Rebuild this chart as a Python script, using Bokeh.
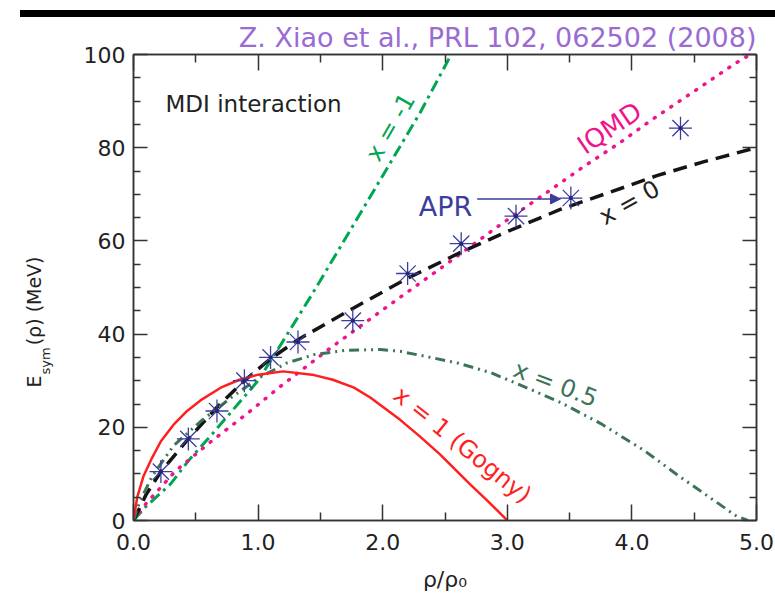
import math
from bokeh.plotting import figure
from bokeh.layouts import column
from bokeh.models import (Range1d, LinearAxis, FixedTicker, NumeralTickFormatter,
                          Label, Arrow, NormalHead, Title, Spacer)
from bokeh.embed import file_html
from bokeh.resources import INLINE

FONT = "DejaVu Sans"

# ---------------- data ----------------
gogny_u = [0, 0.03, 0.08, 0.15, 0.22, 0.32, 0.43, 0.55, 0.7, 0.85, 1.0, 1.2, 1.45,
           1.6, 1.77, 1.9, 2.0, 2.14, 2.3, 2.46, 2.7, 2.85, 3.0]
gogny_e = [0, 5, 9.5, 13.5, 17, 20.5, 23.5, 26, 28.5, 30.2, 31.3, 32, 31.2,
           30.2, 28.5, 26.4, 24.4, 21.6, 18, 14.2, 7.8, 4, 0]

half_u = [0, 0.05, 0.15, 0.32, 0.54, 0.78, 1.0, 1.23, 1.45, 1.7, 1.98, 2.14, 2.33,
          2.6, 2.87, 3.19, 3.43, 3.75, 4.1, 4.39, 4.66, 4.83, 4.93]
half_e = [0, 4, 9.5, 16, 21.3, 26.3, 30.5, 33.8, 35.6, 36.5, 36.7, 36.3, 35.3,
          33.8, 31.7, 28.1, 25.3, 20.8, 15, 9.3, 4.3, 1.1, 0]

zero_u = [0, 0.1, 0.22, 0.44, 0.67, 0.89, 1.1, 1.32, 1.76, 2.2, 2.63, 3.0, 3.43,
          3.83, 4.2, 4.58, 5.0]
zero_e = [0, 5.5, 10.5, 17.5, 24.3, 30, 34.7, 38.8, 45.5, 52, 57.6, 62, 66.8,
          70.5, 74, 77, 80]

minus_u = [0, 0.1, 0.3, 0.44, 0.62, 0.8, 1.0, 1.2, 1.43, 1.7, 2.0, 2.3, 2.55]
minus_e = [0, 3, 7.9, 12.8, 18.2, 23.8, 30, 38.5, 48.4, 60.5, 74, 87.5, 100]

iqmd_u = [0, 0.1, 0.34, 0.62, 0.91, 1.18, 1.58, 2.01, 2.5, 2.94, 3.35, 3.61, 3.9,
          4.16, 4.56, 4.83, 4.95]
iqmd_e = [0, 3.6, 10.7, 16.9, 22.9, 28.8, 37, 45.4, 54.8, 63.4, 71, 75.9, 81,
          86, 93.2, 98.1, 100]

apr_u = [0.22, 0.44, 0.67, 0.89, 1.1, 1.32, 1.76, 2.2, 2.63, 3.07, 3.51, 4.39]
apr_e = [10.5, 17.5, 23.5, 30, 35, 38.3, 42.9, 53, 59.4, 65.3, 69.2, 84.2]

x_ticks = [0, 1, 2, 3, 4, 5]
x_minor = [0.5, 1.5, 2.5, 3.5, 4.5]
y_ticks = [0, 20, 40, 60, 80, 100]
y_minor = [5, 10, 15, 25, 30, 35, 45, 50, 55, 65, 70, 75, 85, 90, 95]

# ---------------- figure ----------------
p = figure(width=775, height=592, output_backend="svg", toolbar_location=None,
           x_range=Range1d(0, 5), y_range=Range1d(0, 100),
           min_border_left=133, min_border_right=19, min_border_top=35,
           min_border_bottom=89)
p.background_fill_color = "white"
p.border_fill_color = "white"
p.xgrid.visible = False
p.ygrid.visible = False
p.outline_line_color = "#333333"
p.outline_line_width = 1.5

p.title.text = "Z. Xiao et al., PRL 102, 062502 (2008)"
p.title.align = "right"
p.title.text_font = FONT
p.title.text_font_size = "27px"
p.title.text_font_style = "normal"
p.title.text_color = "#9b6bd3"
p.title.standoff = 4


def style_axis(ax, ticks, minor, major_len, minor_len, show_labels):
    ax.ticker = FixedTicker(ticks=ticks, minor_ticks=minor)
    ax.major_tick_in = major_len
    ax.major_tick_out = 0
    ax.minor_tick_in = minor_len
    ax.minor_tick_out = 0
    ax.major_tick_line_color = "#333333"
    ax.minor_tick_line_color = "#333333"
    ax.major_tick_line_width = 1.5
    ax.minor_tick_line_width = 1.5
    ax.axis_line_color = "#333333"
    ax.axis_line_width = 1.5
    if show_labels:
        ax.major_label_text_font = FONT
        ax.major_label_text_font_size = "22px"
        ax.major_label_text_color = "#222222"
    else:
        ax.major_label_text_font_size = "0px"
        ax.major_label_text_color = None
        ax.major_label_standoff = 0


xa = p.xaxis[0]
style_axis(xa, x_ticks, x_minor, 16, 8, True)
xa.formatter = NumeralTickFormatter(format="0.0")
xa.major_label_standoff = 13
xa.axis_label = "\u03c1/\u03c1\u2080"
xa.axis_label_text_font = FONT
xa.axis_label_text_font_size = "22px"
xa.axis_label_text_font_style = "normal"
xa.axis_label_text_color = "#222222"
xa.axis_label_standoff = 14

ya = p.yaxis[0]
style_axis(ya, y_ticks, y_minor, 14, 7, True)
ya.major_label_standoff = 8

top = LinearAxis()
style_axis(top, x_ticks, x_minor, 16, 8, False)
p.add_layout(top, "above")
right = LinearAxis()
style_axis(right, y_ticks, y_minor, 14, 7, False)
p.add_layout(right, "right")

# invisible spacer axis: pushes the y-axis title away from the tick labels
gap = LinearAxis(ticker=FixedTicker(ticks=[0]), axis_line_color=None,
                 major_tick_line_color=None, minor_tick_line_color=None,
                 major_tick_in=0, major_tick_out=28, minor_tick_in=0,
                 minor_tick_out=0, major_label_text_font_size="0px",
                 major_label_text_color=None, major_label_standoff=0)
p.add_layout(gap, "left")

# y-axis title built from two titles (subscript in its own column)
sub = Title(text="sym", align="left", offset=146, text_font=FONT,
            text_font_size="13px", text_font_style="normal",
            text_color="#222222", standoff=0)
p.add_layout(sub, "left")
main = Title(text="E\u00a0\u00a0\u00a0\u00a0\u00a0(\u03c1) (MeV)", align="left",
             offset=133, text_font=FONT, text_font_size="19px",
             text_font_style="normal", text_color="#222222", standoff=-18)
p.add_layout(main, "left")

# ---------------- curves ----------------
p.line(minus_u, minus_e, line_color="#00a651", line_width=3, line_dash="12 5 3 5")
p.line(iqmd_u, iqmd_e, line_color="#f0148c", line_width=3.5, line_dash="1 9",
       line_cap="round")
p.line(zero_u, zero_e, line_color="#151515", line_width=3.5, line_dash="14 8")
p.line(half_u, half_e, line_color="#3d7457", line_width=3, line_dash="10 5 2 5 2 5")
p.line(gogny_u, gogny_e, line_color="#ff1f1f", line_width=2.5)

p.scatter(apr_u, apr_e, marker="asterisk", size=23, line_color="#3b3e9c",
          line_width=1.3)
p.scatter(apr_u, apr_e, marker="circle", size=4, fill_color="#23267a",
          line_color=None)


# ---------------- texts ----------------
def lab(text, x, y, size, color, align="left", baseline="alphabetic", angle=0.0):
    p.add_layout(Label(x=x, y=y, text=text, text_font=FONT,
                       text_font_size=f"{size}px", text_color=color,
                       text_align=align, text_baseline=baseline,
                       angle=math.radians(angle)))


lab("MDI interaction", 0.257, 89.3, 23, "#222222")
lab("APR", 2.504, 67.3, 27, "#3b3e9c", align="center")
lab("x = -1", 2.063, 84.4, 24, "#00a651", align="center", baseline="middle",
    angle=60)
lab("IQMD", 3.82, 84.2, 26, "#f0148c", align="center", baseline="middle", angle=34)
lab("x = 0", 3.98, 68.2, 24, "#222222", align="center", baseline="middle", angle=29)
lab("x = 0.5", 3.387, 29.3, 24, "#3d7457", align="center", baseline="middle",
    angle=-21)
lab("x = 1 (Gogny)", 2.64, 16.2, 24, "#ff1f1f", align="center", baseline="middle",
    angle=-39)

p.add_layout(Arrow(end=NormalHead(size=10, fill_color="#3b3e9c",
                                  line_color="#3b3e9c"),
                   x_start=2.758, y_start=69.0, x_end=3.427, y_end=69.0,
                   line_color="#3b3e9c", line_width=1.5))

# slide header bar above the chart
bar = Spacer(width=755, height=7, margin=(10, 0, 0, 20),
             styles={"background-color": "#000000"})

layout = column(bar, p, spacing=0)
open("out.html", "w").write(file_html(layout, INLINE))
